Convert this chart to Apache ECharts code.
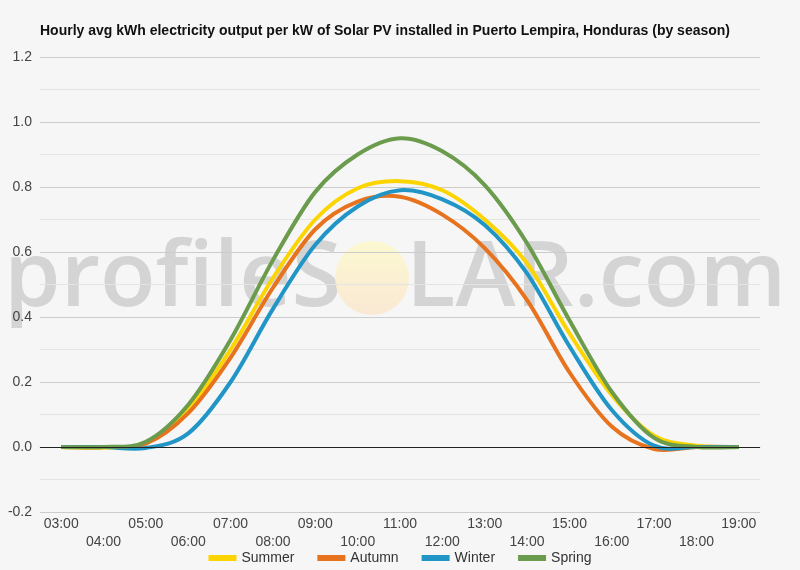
<!DOCTYPE html>
<html>
<head>
<meta charset="utf-8">
<script src="https://cdn.jsdelivr.net/npm/echarts@6/dist/echarts.min.js"></script>
<style>
  html, body { margin: 0; padding: 0; background: #f6f6f6; }
  #chart { width: 800px; height: 570px; }
</style>
</head>
<body>
<div id="chart"></div>
<script>
// hours on the x axis
const hours = ['03:00', '04:00', '05:00', '06:00', '07:00', '08:00', '09:00', '10:00',
  '11:00', '12:00', '13:00', '14:00', '15:00', '16:00', '17:00', '18:00', '19:00']

// kWh per kW
const summer = [0, -0.002, 0.012, 0.117, 0.30, 0.52, 0.70, 0.796, 0.818, 0.79, 0.70, 0.565, 0.35, 0.16, 0.035, 0.004, 0]
const autumn = [0, 0, 0.01, 0.104, 0.275, 0.49, 0.67, 0.755, 0.77, 0.715, 0.612, 0.452, 0.23, 0.063, -0.006, 0, 0]
const winter = [0, 0, -0.003, 0.042, 0.20, 0.425, 0.622, 0.74, 0.79, 0.762, 0.683, 0.534, 0.31, 0.114, 0.004, 0, 0]
const spring = [0, 0, 0.016, 0.13, 0.33, 0.575, 0.785, 0.90, 0.95, 0.91, 0.806, 0.627, 0.39, 0.17, 0.028, 0, 0]

const yTicks = {min: -0.2, max: 1.2, interval: 0.2}

const font = '"Liberation Sans", Arial, sans-serif'

const chart = echarts.init(document.getElementById('chart'))

// smooth curve through the points (catmull-rom), positions come from api.coord
function curve(name, values, color) {
  return {
    name: name,
    type: 'custom',
    coordinateSystem: 'cartesian2d',
    data: values.map((v, i) => [i, v]),
    encode: {x: 0, y: 1},
    itemStyle: {color: color},
    renderItem: function (params, api) {
      if (params.dataIndex !== 0) return null
      const pts = values.map((v, i) => api.coord([i, v]))
      const n = pts.length
      let d = 'M' + pts[0][0] + ',' + pts[0][1]
      for (let i = 0; i < n - 1; i++) {
        const p0 = pts[Math.max(i - 1, 0)]
        const p1 = pts[i]
        const p2 = pts[i + 1]
        const p3 = pts[Math.min(i + 2, n - 1)]
        const c1x = p1[0] + (p2[0] - p0[0]) / 6
        const c1y = p1[1] + (p2[1] - p0[1]) / 6
        const c2x = p2[0] - (p3[0] - p1[0]) / 6
        const c2y = p2[1] - (p3[1] - p1[1]) / 6
        d += ' C' + c1x + ',' + c1y + ' ' + c2x + ',' + c2y + ' ' + p2[0] + ',' + p2[1]
      }
      return {
        type: 'path',
        shape: {pathData: d},
        style: {fill: 'none', stroke: color, lineWidth: 4, lineJoin: 'round'},
      }
    },
  }
}

const series = [
  curve('Summer', summer, '#fcd500'),
  curve('Autumn', autumn, '#e8731f'),
  curve('Winter', winter, '#2196c6'),
  curve('Spring', spring, '#6b9b4c'),
  // black line at zero
  {
    type: 'line',
    data: [],
    silent: true,
    markLine: {
      silent: true,
      symbol: 'none',
      label: {show: false},
      lineStyle: {color: '#222', width: 1, type: 'solid'},
      data: [{yAxis: 0}],
    },
    z: 1,
  },
]

const markFill = 'rgba(165,165,165,0.42)'

chart.setOption({
  backgroundColor: '#f6f6f6',
  animation: false,
  title: {
    text: 'Hourly avg kWh electricity output per kW of Solar PV installed in Puerto Lempira, Honduras (by season)',
    left: 35,
    top: 19,
    textStyle: {fontFamily: font, fontSize: 14, fontWeight: 'bold', color: '#111'},
  },
  graphic: [
    {
      type: 'text',
      z: -10,
      silent: true,
      style: {x: 4, y: 280, text: 'profileS', font: '600 91px "Open Sans"', fill: markFill, textVerticalAlign: 'middle'},
    },
    {
      type: 'circle',
      z: -10,
      silent: true,
      shape: {cx: 372, cy: 278, r: 37},
      style: {
        fill: new echarts.graphic.LinearGradient(0, 0, 0, 1, [
          {offset: 0, color: 'rgba(252,249,205,0.9)'},
          {offset: 1, color: 'rgba(250,230,208,0.9)'},
        ]),
      },
    },
    {
      type: 'text',
      z: -10,
      silent: true,
      style: {x: 406, y: 280, text: 'LAR.com', font: '600 91px "Open Sans"', fill: markFill, textVerticalAlign: 'middle'},
    },
  ],
  legend: {
    bottom: 0,
    left: 'center',
    icon: 'rect',
    itemWidth: 28,
    itemHeight: 6,
    itemGap: 23,
    textStyle: {fontFamily: font, fontSize: 14, color: '#333'},
    data: ['Summer', 'Autumn', 'Winter', 'Spring'],
  },
  grid: {left: 40, right: 40, top: 57, bottom: 58, containLabel: false},
  xAxis: {
    type: 'category',
    data: hours,
    boundaryGap: true,
    axisLine: {show: true, lineStyle: {color: '#ccc'}},
    axisTick: {show: false},
    axisLabel: {
      interval: 0,
      margin: 3,
      fontFamily: font,
      fontSize: 14,
      color: '#444',
      lineHeight: 18,
      formatter: function (value, index) {
        return index % 2 === 1 ? '\n' + value : value
      },
    },
    splitLine: {show: false},
  },
  yAxis: {
    type: 'value',
    min: yTicks.min,
    max: yTicks.max,
    interval: yTicks.interval,
    axisLine: {show: false},
    axisTick: {show: false},
    axisLabel: {
      fontFamily: font,
      fontSize: 14,
      color: '#444',
      margin: 8,
      formatter: function (v) {
        return v.toFixed(1)
      },
    },
    splitLine: {lineStyle: {color: '#cccccc'}},
    minorTick: {show: false, splitNumber: 2},
    minorSplitLine: {show: true, lineStyle: {color: '#e4e4e4'}},
  },
  series: series,
})
</script>
</body>
</html>
